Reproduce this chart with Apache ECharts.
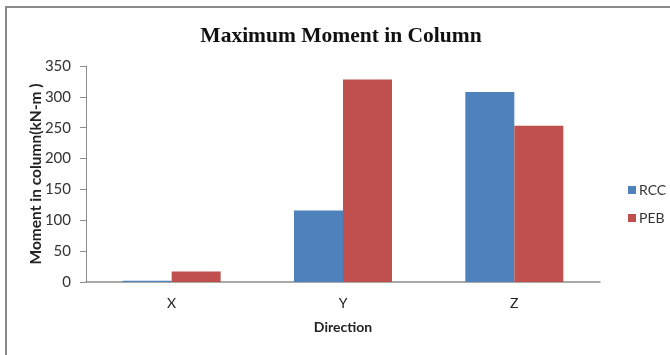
<!DOCTYPE html>
<html>
<head>
<meta charset="utf-8">
<script src="https://cdn.jsdelivr.net/npm/echarts@6/dist/echarts.min.js"></script>
<style>
  html, body { margin: 0; padding: 0; background: #fff; }
  #chart { width: 670px; height: 355px; }
</style>
</head>
<body>
<div id="chart"></div>
<script>
// Maximum column moment by loading direction, RCC vs PEB frames
const directions = ['X', 'Y', 'Z'];
const rccMoment = [2, 116, 308];
const pebMoment = [17, 328, 253];
const yTicks = { min: 0, max: 350, step: 50 };

const labelFont = 'Lato, "Open Sans", sans-serif';

const chart = echarts.init(document.getElementById('chart'));
chart.setOption({
  backgroundColor: '#ffffff',
  animation: false,
  graphic: [{
    type: 'rect',
    shape: { x: 6, y: 7, width: 720, height: 400 },
    style: { fill: 'none', stroke: '#8a8a8a', lineWidth: 2 },
    silent: true
  }],
  title: {
    text: 'Maximum Moment in Column',
    left: 336,
    textAlign: 'center',
    top: 20,
    textStyle: {
      fontFamily: '"Liberation Serif", "Times New Roman", serif',
      fontWeight: 'bold',
      fontSize: 21.5,
      color: '#111'
    }
  },
  legend: {
    orient: 'vertical',
    left: 623,
    top: 178,
    itemWidth: 8,
    itemHeight: 8,
    itemGap: 14,
    icon: 'rect',
    textStyle: { fontFamily: labelFont, fontSize: 14, color: '#333', padding: [0, 0, 0, -2] },
    data: ['RCC', 'PEB']
  },
  grid: { left: 86, right: 70, top: 66, bottom: 73, containLabel: false },
  xAxis: {
    type: 'category',
    data: directions,
    name: 'Direction',
    nameLocation: 'middle',
    nameGap: 38,
    nameTextStyle: { fontFamily: labelFont, fontWeight: 'bold', fontSize: 14, color: '#222' },
    axisLine: { lineStyle: { color: '#8c8c8c', width: 1.5 } },
    axisTick: { show: false },
    axisLabel: { margin: 14, fontFamily: labelFont, fontSize: 14, color: '#222' }
  },
  yAxis: {
    type: 'value',
    min: yTicks.min,
    max: yTicks.max,
    interval: yTicks.step,
    name: 'Moment in column(kN-m )',
    nameLocation: 'middle',
    nameGap: 42,
    nameMoveOverlap: false,
    nameRotate: 90,
    nameTextStyle: { fontFamily: labelFont, fontWeight: 'bold', fontSize: 15.5, color: '#222' },
    axisLine: { show: true, lineStyle: { color: '#8c8c8c', width: 1 } },
    axisTick: { show: true, inside: false, length: 6, lineStyle: { color: '#8c8c8c' } },
    splitLine: { show: false },
    axisLabel: { margin: 15, fontFamily: labelFont, fontSize: 15, color: '#333' }
  },
  series: [
    {
      name: 'RCC',
      type: 'bar',
      data: rccMoment,
      barWidth: 49,
      barGap: '0%',
      itemStyle: { color: '#4F81BD' }
    },
    {
      name: 'PEB',
      type: 'bar',
      data: pebMoment,
      barWidth: 49,
      barGap: '0%',
      itemStyle: { color: '#C0504D' }
    }
  ]
});
</script>
</body>
</html>
